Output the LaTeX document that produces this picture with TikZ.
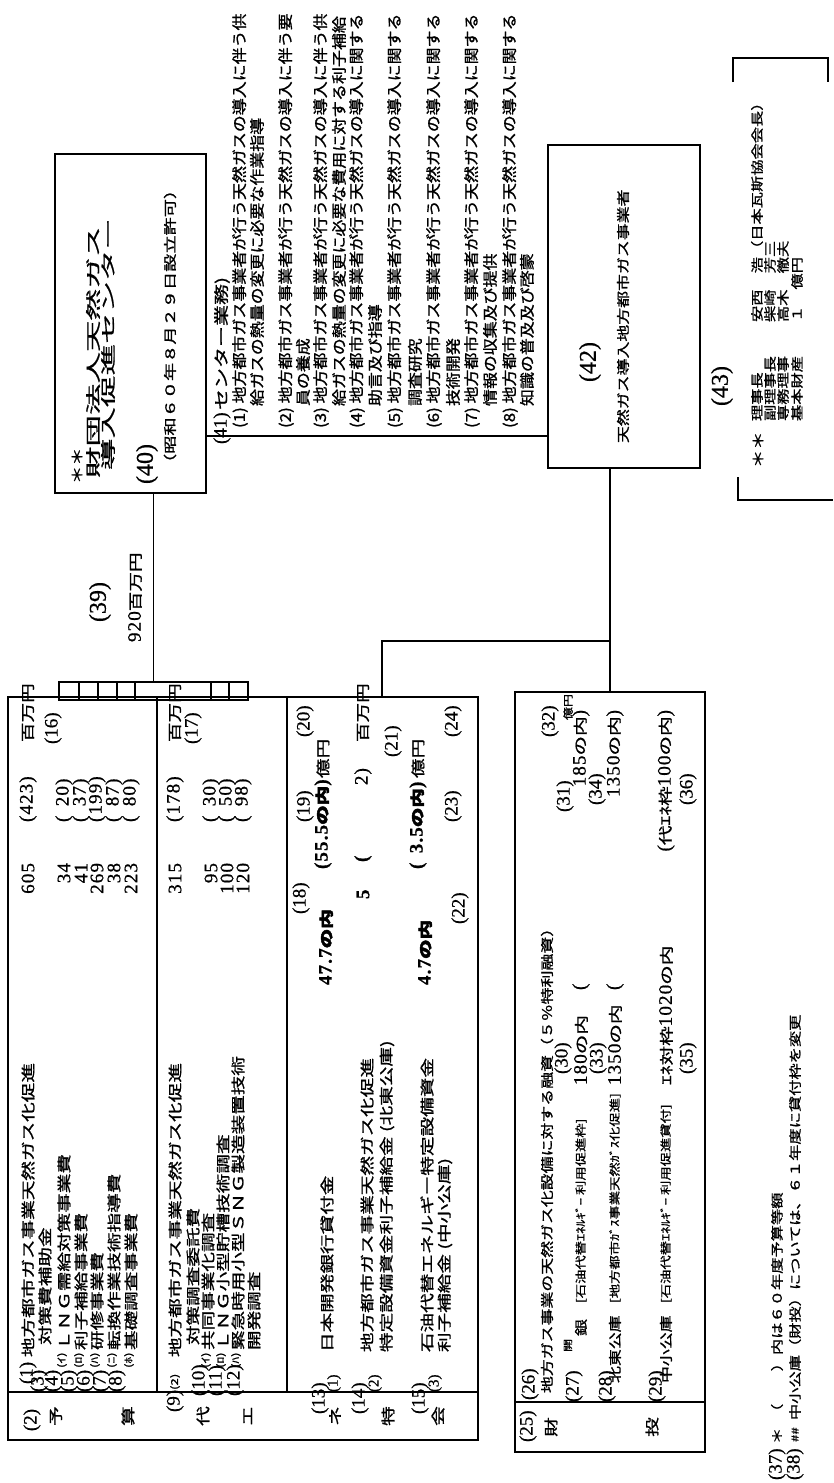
\documentclass[tikz,border=0pt]{standalone}
\usepackage{fontspec}
\setmainfont{Noto Sans CJK JP}
\newfontfamily\tabjp{Noto Sans CJK JP}[FakeStretch=1.4,FakeBold=1.2]
\newfontfamily\titlejp{Noto Sans CJK JP}[FakeStretch=2.1,FakeBold=1.2]
\newfontfamily\listjp{Noto Sans CJK JP}[FakeStretch=1.13,FakeBold=1.2]
\newfontfamily\boxjp{Noto Sans CJK JP}[FakeStretch=1.3,FakeBold=1.2]
\newfontfamily\boldjp{Noto Sans CJK JP}[FakeStretch=1.4,FakeBold=3]
\newfontfamily\numrm{Liberation Serif}[LetterSpace=6,FakeBold=0.8]
\newfontfamily\markrm{Liberation Serif}[FakeBold=0.6]
\newcommand{\jpunit}{\tabjp\fontsize{14}{16}\selectfont}
\newcommand{\jpbold}{\boldjp\fontsize{14}{16}\selectfont}
\usetikzlibrary{positioning}

\tikzstyle{vtext} = [rotate=90, anchor=west, inner sep=0pt, outer sep=0pt]
\tikzstyle{tab_text} = [vtext, font=\tabjp\fontsize{14}{16}\selectfont]
\tikzstyle{row_text} = [vtext, font=\boxjp\fontsize{13}{15}\selectfont]
\tikzstyle{bracket_text} = [vtext, font=\boxjp\fontsize{11}{13}\selectfont]
\tikzstyle{box_text} = [vtext, font=\boxjp\fontsize{12.5}{14}\selectfont]
\tikzstyle{list_text} = [vtext, font=\listjp\fontsize{15}{17}\selectfont]
\tikzstyle{small_text} = [vtext, font=\tabjp\fontsize{9.5}{11}\selectfont]
\tikzstyle{num_text} = [vtext, font=\numrm\fontsize{19}{21}\selectfont]
\tikzstyle{bold_num} = [vtext, font=\numrm\bfseries\fontsize{19}{21}\selectfont]
\tikzstyle{mark_text} = [vtext, font=\markrm\fontsize{19}{21}\selectfont]
\tikzstyle{mid_mark} = [vtext, font=\markrm\fontsize{15}{17}\selectfont]
\tikzstyle{big_mark} = [vtext, font=\markrm\fontsize{24}{26}\selectfont]
\tikzstyle{label_char} = [tab_text, anchor=center]
\tikzstyle{frame_box} = [draw, line width=1.8pt, inner sep=0pt, outer sep=0pt]
\tikzstyle{plain_line} = [line width=1.5pt]

\begin{document}
\begin{tikzpicture}[x=1pt, y=-1pt]
\useasboundingbox (0,0) rectangle (833,1483);

% Rahmen
\node[frame_box, minimum width=470, minimum height=743] (budget_table) at (243,1068.5) {};
\node[frame_box, minimum width=190, minimum height=760] (fiscal_box) at (610,1072) {};
\node[frame_box, minimum width=151, minimum height=339] (center_box) at (130.5,323.5) {};
\node[frame_box, minimum width=152, minimum height=323] (office_box) at (624,306.5) {};
\node[frame_box, line width=1.5pt, minimum width=189, minimum height=18] (comb) at (153.5,691) {};
\draw[plain_line] (79,682) -- (79,700) (98,682) -- (98,700) (117,682) -- (117,700)
  (135,682) -- (135,700) (211,682) -- (211,700) (229,682) -- (229,700);
\draw[plain_line] (budget_table.west |- 0,1392) -- (budget_table.east |- 0,1392);
\draw[plain_line] (157,697) -- (157,1392) (287,697) -- (287,1392);
\draw[plain_line] (fiscal_box.west |- 0,1402) -- (fiscal_box.east |- 0,1402);
\draw[plain_line] (733,82) -- (733,58) -- (828,58) -- (828,82);
\draw[plain_line] (738,477) -- (738,500) -- (833,500);

% Verbindungen
\coordinate (loan_join) at (382,641);
\draw[plain_line] (comb.north) -- (comb.north |- center_box.south);
\draw[plain_line] (center_box.east |- 0,436) -- (office_box.west |- 0,436);
\draw[plain_line] (fiscal_box.north) -- (fiscal_box.north |- office_box.south);
\draw[plain_line] (loan_join |- budget_table.north) -- (loan_join) -- (loan_join -| fiscal_box.north);

% Zentrum (40)
\node[vtext, font=\boxjp\fontsize{14}{16}\selectfont] (center_star) at (77,484) {＊＊};
\node[vtext, font=\titlejp\fontsize{15}{17}\selectfont] (center_name_a) at (93,478) {財団法人天然ガス};
\node[vtext, font=\titlejp\fontsize{15}{17}\selectfont] (center_name_b) at (108,470) {導入促進センター};
\node[big_mark] (center_num) at (147,484) {(40)};
\node[vtext, font=\tabjp\fontsize{13}{15}\selectfont] (center_date) at (170,472) {（昭和６０年８月２９日設立許可）};
\node[big_mark] (grant_num) at (100,622) {(39)};
\node[num_text] (grant_amt) at (135,642) {920{\jpunit 百万円}};

% Aufgaben (41)
\node[mark_text] (duty_num) at (222,444) {(41)};
\node[vtext, font=\tabjp\fontsize{15}{17}\selectfont] (duty_title) at (222,410) {センター業務)};
\node[list_text] (duty_1) at (240,428) {(1) 地方都市ガス事業者が行う天然ガスの導入に伴う供};
\node[list_text] (duty_1b) at (257,406) {給ガスの熱量の変更に必要な作業指導};
\node[list_text] (duty_2) at (286,428) {(2) 地方都市ガス事業者が行う天然ガスの導入に伴う要};
\node[list_text] (duty_2b) at (303,406) {員の養成};
\node[list_text] (duty_3) at (321,428) {(3) 地方都市ガス事業者が行う天然ガスの導入に伴う供};
\node[list_text] (duty_3b) at (339,406) {給ガスの熱量の変更に必要な費用に対する利子補給};
\node[list_text] (duty_4) at (357,428) {(4) 地方都市ガス事業者が行う天然ガスの導入に関する};
\node[list_text] (duty_4b) at (375,406) {助言及び指導};
\node[list_text] (duty_5) at (395,428) {(5) 地方都市ガス事業者が行う天然ガスの導入に関する};
\node[list_text] (duty_5b) at (415,406) {調査研究};
\node[list_text] (duty_6) at (434,428) {(6) 地方都市ガス事業者が行う天然ガスの導入に関する};
\node[list_text] (duty_6b) at (453,406) {技術開発};
\node[list_text] (duty_7) at (472,428) {(7) 地方都市ガス事業者が行う天然ガスの導入に関する};
\node[list_text] (duty_7b) at (490,406) {情報の収集及び提供};
\node[list_text] (duty_8) at (510,428) {(8) 地方都市ガス事業者が行う天然ガスの導入に関する};
\node[list_text] (duty_8b) at (527,406) {知識の普及及び啓蒙};

% Gasunternehmen (42)
\node[big_mark] (office_num) at (590,382) {(42)};
\node[row_text] (office_name) at (623,443) {天然ガス導入地方都市ガス事業者};

% Vorstand (43)
\node[big_mark] (board_num) at (722,406) {(43)};
\node[vtext, font=\boxjp\fontsize{14}{16}\selectfont] (board_star) at (758,468) {＊＊};
\node[box_text] (board_t1) at (757,421) {理事長};
\node[box_text] (board_t2) at (770,421) {副理事長};
\node[box_text] (board_t3) at (783,421) {専務理事};
\node[box_text] (board_t4) at (797,421) {基本財産};
\node[box_text] (board_n1) at (757,322) {安西　浩（日本瓦斯協会会長）};
\node[box_text] (board_n2) at (770,322) {柴崎　芳三};
\node[box_text] (board_n3) at (783,322) {高木　徹夫};
\node[box_text] (board_n4) at (797,322) {１　億円};

% Haushalt (2)
\node[mark_text, anchor=center] (budget_num) at (32,1420) {(2)};
\node[label_char] (label_yo) at (56,1416) {予};
\node[label_char] (label_san) at (128,1416) {算};
\node[label_char] (label_dai) at (203,1416) {代};
\node[label_char] (label_e) at (248,1416) {エ};
\node[label_char] (label_ne) at (335,1416) {ネ};
\node[label_char] (label_toku) at (388,1416) {特};
\node[label_char] (label_kai) at (438,1416) {会};

\node[mark_text] (budget_m1) at (28,1384) {(1)};
\node[tab_text] (budget_r1) at (28,1357) {地方都市ガス事業天然ガス化促進};
\node[mark_text] (budget_m3) at (39,1392) {(3)};
\node[tab_text] (budget_r2) at (45,1345) {対策費補助金};
\node[mark_text] (budget_m4) at (53,1392) {(4)};
\node[small_text] (budget_s1) at (62,1368) {(ｲ)};
\node[tab_text] (budget_r3) at (64,1350) {ＬＮＧ需給対策事業費};
\node[mark_text] (budget_m5) at (69,1392) {(5)};
\node[small_text] (budget_s2) at (79,1368) {(ﾛ)};
\node[tab_text] (budget_r4) at (81,1350) {利子補給事業費};
\node[mark_text] (budget_m6) at (85,1392) {(6)};
\node[small_text] (budget_s3) at (95,1368) {(ﾊ)};
\node[tab_text] (budget_r5) at (97,1350) {研修事業費};
\node[mark_text] (budget_m7) at (101,1392) {(7)};
\node[small_text] (budget_s4) at (112,1368) {(ﾆ)};
\node[tab_text] (budget_r6) at (114,1350) {転換作業技術指導費};
\node[mark_text] (budget_m8) at (117,1392) {(8)};
\node[small_text] (budget_s5) at (129,1368) {(ﾎ)};
\node[tab_text] (budget_r7) at (131,1350) {基礎調査事業費};

\node[num_text, anchor=east] (budget_a1) at (28,863) {605};
\node[num_text] (budget_p1) at (28,822) {(423)};
\node[num_text, anchor=east] (budget_a3) at (64,863) {34};
\node[num_text] (budget_p3) at (64,822) {(\phantom{1}20)};
\node[num_text, anchor=east] (budget_a4) at (81,863) {41};
\node[num_text] (budget_p4) at (81,822) {(\phantom{1}37)};
\node[num_text, anchor=east] (budget_a5) at (97,863) {269};
\node[num_text] (budget_p5) at (97,822) {(199)};
\node[num_text, anchor=east] (budget_a6) at (114,863) {38};
\node[num_text] (budget_p6) at (114,822) {(\phantom{1}87)};
\node[num_text, anchor=east] (budget_a7) at (131,863) {223};
\node[num_text] (budget_p7) at (131,822) {(\phantom{1}80)};
\node[tab_text] (budget_unit) at (28,742) {百万円};
\node[mark_text] (budget_m16) at (53,744) {(16)};

% Sonderhaushalt
\node[mark_text] (alt_m9) at (175,1412) {(9)};
\node[small_text] (alt_s0) at (175,1390) {(2)};
\node[tab_text] (alt_r1) at (175,1357) {地方都市ガス事業天然ガス化促進};
\node[tab_text] (alt_r2) at (193,1345) {対策調査委託費};
\node[mark_text] (alt_m10) at (200,1396) {(10)};
\node[small_text] (alt_s1) at (206,1368) {(ｲ)};
\node[tab_text] (alt_r3) at (208,1350) {共同事業化調査};
\node[mark_text] (alt_m11) at (217,1396) {(11)};
\node[small_text] (alt_s2) at (221,1368) {(ﾛ)};
\node[tab_text] (alt_r4) at (223,1350) {ＬＮＧ小型貯槽技術調査};
\node[mark_text] (alt_m12) at (235,1396) {(12)};
\node[small_text] (alt_s3) at (236,1368) {(ﾊ)};
\node[tab_text] (alt_r5) at (238,1350) {緊急時用小型ＳＮＧ製造装置技術};
\node[tab_text] (alt_r6) at (254,1350) {開発調査};
\node[num_text, anchor=east] (alt_a1) at (175,863) {315};
\node[num_text] (alt_p1) at (175,822) {(178)};
\node[num_text, anchor=east] (alt_a3) at (211,863) {95};
\node[num_text] (alt_p3) at (211,822) {(\phantom{1}30)};
\node[num_text, anchor=east] (alt_a4) at (227,863) {100};
\node[num_text] (alt_p4) at (227,822) {(\phantom{1}50)};
\node[num_text, anchor=east] (alt_a5) at (243,863) {120};
\node[num_text] (alt_p5) at (243,822) {(\phantom{1}98)};
\node[tab_text] (alt_unit) at (175,742) {百万円};
\node[mark_text] (alt_m17) at (193,744) {(17)};

% Darlehen
\node[mark_text] (loan_m13) at (320,1414) {(13)};
\node[mid_mark] (loan_s1) at (334,1392) {(1)};
\node[tab_text] (loan_r1) at (327,1352) {日本開発銀行貸付金};
\node[mark_text] (loan_m18) at (301,914) {(18)};
\node[bold_num] (loan_a1) at (326,985) {47.7{\jpbold の内}};
\node[bold_num] (loan_p1) at (323,869) {(55.5{\jpbold の内})};
\node[mark_text] (loan_m19) at (305,822) {(19)};
\node[tab_text] (loan_u1) at (323,778) {億円};
\node[mark_text] (loan_m20) at (305,737) {(20)};

\node[mark_text] (loan_m14) at (360,1414) {(14)};
\node[mid_mark] (loan_s2) at (375,1392) {(2)};
\node[tab_text] (loan_r2) at (367,1352) {地方都市ガス事業天然ガス化促進};
\node[tab_text] (loan_r2b) at (387,1352) {特定設備資金利子補給金 (北東公庫)};
\node[bold_num] (loan_a2) at (363,899) {5};
\node[bold_num] (loan_p2) at (363,862) {(};
\node[num_text] (loan_p2b) at (363,785) {2)};
\node[tab_text] (loan_u2) at (363,742) {百万円};
\node[mark_text] (loan_m21) at (393,757) {(21)};

\node[mark_text] (loan_m15) at (420,1414) {(15)};
\node[mid_mark] (loan_s3) at (435,1392) {(3)};
\node[tab_text] (loan_r3) at (427,1352) {石油代替エネルギー特定設備資金};
\node[tab_text] (loan_r3b) at (445,1352) {利子補給金 (中小公庫)};
\node[bold_num] (loan_a3) at (425,985) {4.7{\jpbold の内}};
\node[bold_num] (loan_p3) at (418,869) {(\phantom{5}3.5{\jpbold の内})};
\node[tab_text] (loan_u3) at (418,778) {億円};
\node[mark_text] (loan_m22) at (460,924) {(22)};
\node[mark_text] (loan_m23) at (453,822) {(23)};
\node[mark_text] (loan_m24) at (453,737) {(24)};

% Finanzinvestitionen (25)
\node[mark_text] (fiscal_num) at (528,1442) {(25)};
\node[label_char] (label_zai) at (551,1427) {財};
\node[label_char] (label_to) at (652,1427) {投};
\node[mark_text] (fiscal_m26) at (530,1400) {(26)};
\node[row_text] (fiscal_title) at (547,1393) {地方ガス事業の天然ガス化設備に対する融資（５％特利融資）};
\node[mark_text] (fiscal_m27) at (574,1402) {(27)};
\node[small_text] (fiscal_kai) at (568,1352) {開};
\node[row_text] (fiscal_r1a) at (581,1336) {銀};
\node[bracket_text] (fiscal_r1) at (581,1303) {[石油代替ｴﾈﾙｷﾞｰ 利用促進枠]};
\node[num_text] (fiscal_a1) at (581,1085) {180{\jpunit の内}};
\node[mark_text] (fiscal_m30) at (563,1074) {(30)};
\node[num_text] (fiscal_o1) at (581,990) {(};
\node[num_text, anchor=east] (fiscal_p1) at (581,710) {185{\jpunit の内})};
\node[mark_text] (fiscal_m31) at (565,812) {(31)};
\node[mark_text] (fiscal_m32) at (550,737) {(32)};
\node[vtext, font=\boxjp\fontsize{10}{12}\selectfont] (fiscal_unit) at (568,720) {億円};
\node[mark_text] (fiscal_m28) at (607,1402) {(28)};
\node[row_text] (fiscal_r2a) at (615,1383) {北東公庫};
\node[bracket_text] (fiscal_r2) at (615,1303) {[地方都市ｶﾞｽ事業天然ｶﾞｽ化促進]};
\node[num_text] (fiscal_a2) at (615,1085) {1350{\jpunit の内}};
\node[mark_text] (fiscal_m33) at (598,1074) {(33)};
\node[num_text] (fiscal_o2) at (615,990) {(};
\node[num_text, anchor=east] (fiscal_p2) at (615,710) {1350{\jpunit の内})};
\node[mark_text] (fiscal_m34) at (597,805) {(34)};
\node[mark_text] (fiscal_m29) at (657,1402) {(29)};
\node[row_text] (fiscal_r3a) at (666,1383) {中小公庫};
\node[bracket_text] (fiscal_r3) at (666,1303) {[石油代替ｴﾈﾙｷﾞｰ 利用促進貸付]};
\node[num_text] (fiscal_a3) at (666,1085) {{\jpunit ｴﾈ対枠}1020{\jpunit の内}};
\node[num_text, anchor=east] (fiscal_p3) at (666,710) {({\jpunit 代ｴﾈ枠}100{\jpunit の内})};
\node[mark_text] (fiscal_m35) at (688,1074) {(35)};
\node[mark_text] (fiscal_m36) at (688,805) {(36)};

% Fussnoten
\node[mark_text] (note_m37) at (777,1480) {(37)};
\node[box_text] (note_star) at (777,1444) {＊};
\node[box_text] (note_1) at (777,1420) {（　　）内は６０年度予算等額};
\node[mark_text] (note_m38) at (795,1480) {(38)};
\node[small_text] (note_hash) at (795,1442) {\#\#};
\node[box_text] (note_2) at (795,1420) {中小公庫（財投）については、６１年度に貸付枠を変更};
\end{tikzpicture}
\end{document}
